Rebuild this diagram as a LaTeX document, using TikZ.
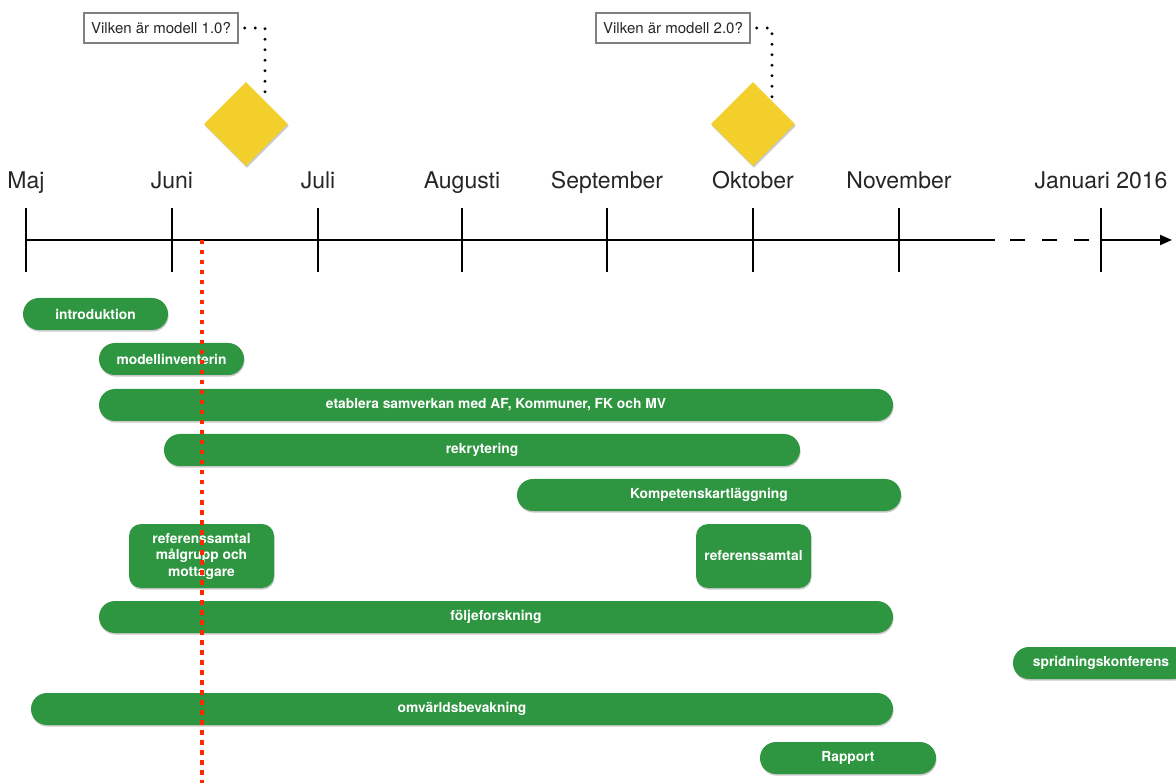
\documentclass[tikz,border=0pt]{standalone}
\usepackage{fontspec}
\setmainfont{TeX Gyre Heros}
\usetikzlibrary{shapes.geometric, shadows, calc, arrows.meta}

\definecolor{barGreen}{RGB}{46,149,64}
\definecolor{mileYellow}{RGB}{243,207,43}
\definecolor{nowRed}{RGB}{255,40,0}
\definecolor{boxGray}{RGB}{128,128,128}

\tikzset{
  month/.style={font=\fontsize{23}{26}\selectfont, text=black!85, inner sep=0.75pt, anchor=base},
  tick/.style={line width=2},
  bar/.style={rounded corners=16, fill=barGreen, text=white, inner sep=0,
    minimum height=32, font=\bfseries\fontsize{13.8}{16.5}\selectfont,
    drop shadow={shadow xshift=0.6pt, shadow yshift=-1.6pt, opacity=0.35, fill=black!60}},
  tallbar/.style={bar, rounded corners=12, minimum height=64, align=center},
  milestone/.style={diamond, aspect=1, fill=mileYellow, inner sep=0, minimum size=84,
    drop shadow={shadow xshift=0.8pt, shadow yshift=-1.8pt, opacity=0.35, fill=black!60}},
  question/.style={draw=boxGray, line width=1.5, fill=white, minimum width=154,
    minimum height=30, inner sep=0, font=\fontsize{15}{17}\selectfont, text=black!85},
  dots/.style={line width=3.4, line cap=round, dash pattern=on 0pt off 10.5pt}
}

\begin{document}
\begin{tikzpicture}[x=1pt,y=1pt,yscale=-1,xscale=1]
    \useasboundingbox (0,0) rectangle (1176,783);
    \clip (0,0) rectangle (1176,783);

    % Milestones
    \node [milestone] (mile1) at (246,124) {};
    \node [milestone] (mile2) at (753,124) {};
    % Text Node
    \node [question] (q1) at (161,28) {Vilken är modell 1.0?};
    % Text Node
    \node [question] (q2) at (673,28) {Vilken är modell 2.0?};
    %Dotted callouts
    \draw [dots, shorten <=6pt] (q1.east) -| ($(mile1.north)!0.45!(mile1.east)$);
    \draw [dots, shorten <=6pt] (q2.east) -| ($(mile2.north)!0.45!(mile2.east)$);

    % Month labels
    \node [month] (maj) at (26,189) {Maj};
    \node [month] (juni) at (172,189) {Juni};
    \node [month] (juli) at (318,189) {Juli};
    \node [month] (aug) at (462,189) {Augusti};
    \node [month] (sep) at (607,189) {September};
    \node [month] (okt) at (753,189) {Oktober};
    \node [month] (nov) at (899,189) {November};
    \node [month] (jan) at (1101,189) {Januari 2016};

    %Time axis
    \coordinate (axstart) at (26,240);
    \coordinate (axgap) at (995,240);
    \coordinate (axjan) at (1101,240);
    \coordinate (axend) at (1172,240);
    \draw [line width=2] (axstart) -- (axgap);
    \draw [line width=2, dash pattern=on 15pt off 17pt] (1010,240) -- (axjan);
    \draw [line width=2, -{Triangle[length=12pt, width=10pt]}] (axjan) -- (axend);
    %Ticks
    \draw [tick] (26,208) -- (26,272);
    \draw [tick] (172,208) -- (172,272);
    \draw [tick] (318,208) -- (318,272);
    \draw [tick] (462,208) -- (462,272);
    \draw [tick] (607,208) -- (607,272);
    \draw [tick] (753,208) -- (753,272);
    \draw [tick] (899,208) -- (899,272);
    \draw [tick] (1101,208) -- (1101,272);

    % Activities
    \node [bar, minimum width=145] (intro) at (95.5,314) {introduktion};
    \node [bar, minimum width=145] (modinv) at (171.5,359) {modellinventerin};
    \node [bar, minimum width=794] (samverkan) at (496,405) {etablera samverkan med AF, Kommuner, FK och MV};
    \node [bar, minimum width=636] (rekry) at (482,450) {rekrytering};
    \node [bar, minimum width=384] (kompetens) at (709,495) {Kompetenskartläggning};
    \node [tallbar, minimum width=145] (ref1) at (201.5,556) {referenssamtal\\målgrupp och\\mottagare};
    \node [tallbar, minimum width=115] (ref2) at (753.5,556) {referenssamtal};
    \node [bar, minimum width=794] (folj) at (496,617) {följeforskning};
    \node [bar, minimum width=176] (sprid) at (1101,663) {spridningskonferens};
    \node [bar, minimum width=862] (omvarld) at (462,709) {omvärldsbevakning};
    \node [bar, minimum width=176] (rapport) at (848,758) {Rapport};

    %Today marker
    \coordinate (now) at (202,240);
    \coordinate (nowend) at (202,786);
    \draw [color=nowRed, line width=4, dash pattern=on 4.5pt off 5.5pt] (now) -- (nowend);

\end{tikzpicture}
\end{document}
